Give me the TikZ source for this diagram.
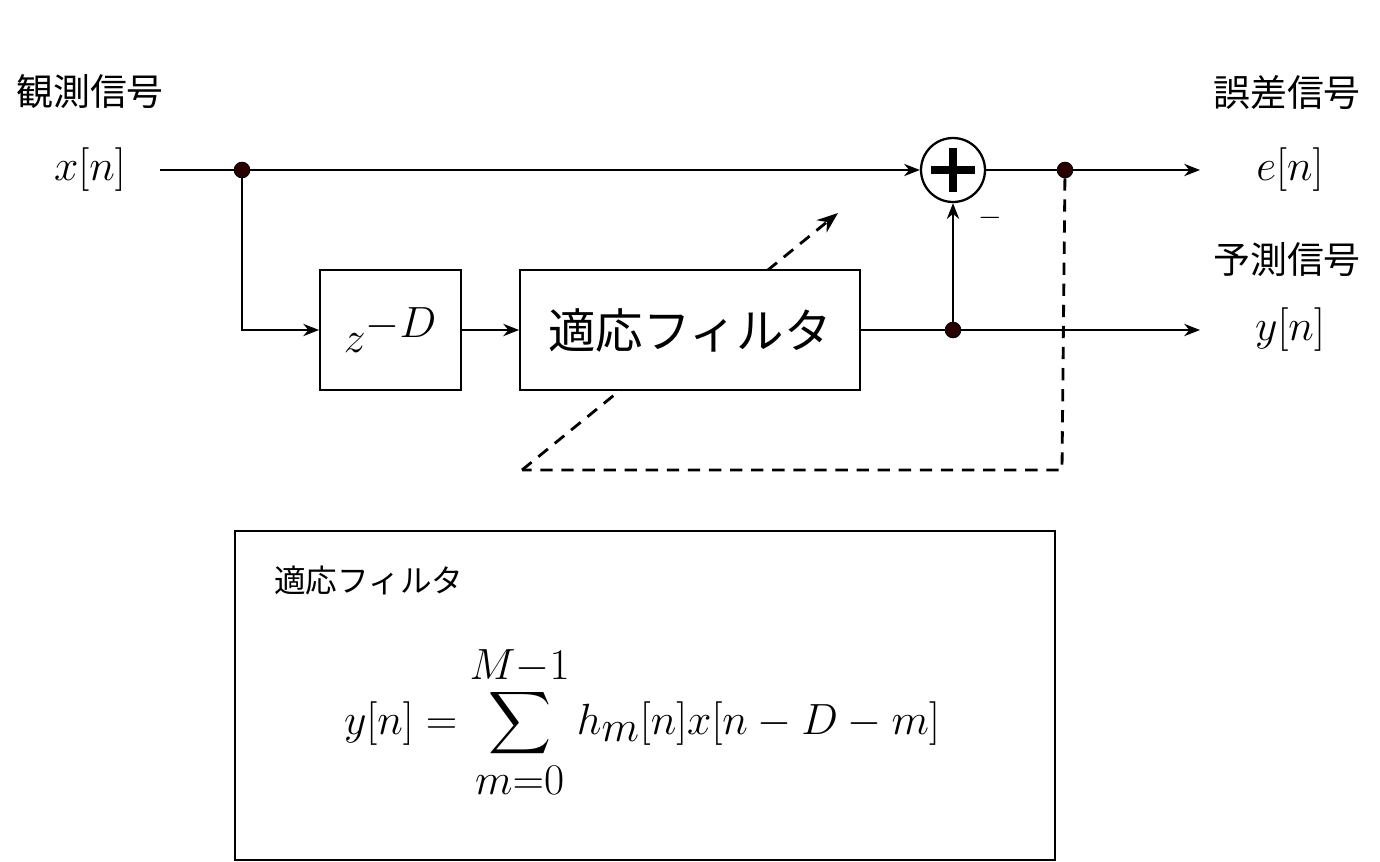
\documentclass[tikz,border=0pt]{standalone}
\usepackage{amsmath}
\usepackage{fontspec}
\newfontfamily\jp{Noto Sans CJK JP}
\usetikzlibrary{arrows.meta,calc}
\begin{document}
\begin{tikzpicture}[x=0.02cm,y=-0.02cm,
  wire/.style={line width=1.1pt,-{Stealth[length=9pt,width=7pt]}},
  plain/.style={line width=1.1pt},
  dashline/.style={line width=1.6pt,dash pattern=on 7pt off 5pt},
  blk/.style={draw,line width=1.1pt,fill=white,inner sep=0pt},
  dot/.style={circle,fill=black!60!red!40!black,draw=black,inner sep=0pt,minimum size=9pt},
  lbl/.style={font=\jp\fontsize{21}{24}\selectfont},
  sig/.style={font=\fontsize{36}{40}\selectfont}]
\useasboundingbox (0,0) rectangle (1380,862);
\node[lbl] (t1) at (90,92) {観測信号};
\node[sig] (x) at (90,170) {$x[n]$};
\node[lbl] (t2) at (1287,92) {誤差信号};
\node[lbl] (t3) at (1287,260) {予測信号};
\node[sig] (e) at (1290,170) {$e[n]$};
\node[sig] (y) at (1290,330) {$y[n]$};
\coordinate (fb1) at (1062,470);
\coordinate (fb2) at (522,470);
\coordinate (fb3) at (838,213);
\draw[dashline,-{Stealth[length=12pt,width=9pt]}] (fb2) -- (fb3);
\node[blk,minimum width=2.82cm,minimum height=2.4cm] (zd) at (390.5,330) {\fontsize{33}{36}\selectfont$z^{-D}$};
\node[blk,minimum width=6.8cm,minimum height=2.4cm,font=\jp\fontsize{27}{30}\selectfont] (af) at (690,330) {適応フィルタ};
\node[circle,draw,line width=1.3pt,minimum size=1.28cm,inner sep=0pt] (add) at (953,170) {};
\draw[line width=4pt] ($(add.center)+(0,-22)$) -- ($(add.center)+(0,22)$);
\draw[line width=4pt] ($(add.center)+(-22,0)$) -- ($(add.center)+(22,0)$);
\node[dot] (d1) at (242,170) {};
\node[dot] (d2) at (953,330) {};
\node[dot] (d3) at (1065,170) {};
\coordinate (xs) at (160,170);
\coordinate (c1) at (242,330);
\coordinate (ye) at (1200,330);
\coordinate (ee) at (1200,170);
\draw[plain] (xs) -- (d1);
\draw[wire] (d1) -- (add.west);
\draw[wire] (d1) -- (c1) -- (zd.west);
\draw[wire] (zd.east) -- (af.west);
\draw[plain] (af.east) -- (d2);
\draw[wire] (d2) -- (ye);
\draw[wire] (d2) -- (add.south);
\draw[plain] (add.east) -- (d3);
\draw[wire] (d3) -- (ee);
\draw[dashline] (d3) -- (fb1) -- (fb2);
\node[font=\fontsize{18}{20}\selectfont] (m) at (990,218) {$-$};
\node[draw,line width=1.1pt,minimum width=16.4cm,minimum height=6.58cm] (bb) at (645,695.5) {};
\node[font=\jp\fontsize{18}{21}\selectfont,anchor=west] (bl) at (268,580) {適応フィルタ};
\node[font=\fontsize{36}{40}\selectfont] (f) at (642,722) {$\displaystyle y[n]=\sum_{m=0}^{M-1}h_m[n]x[n-D-m]$};
\end{tikzpicture}
\end{document}
